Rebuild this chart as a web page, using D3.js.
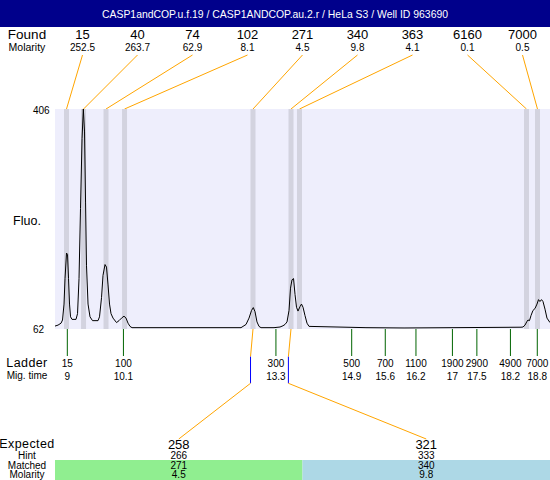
<!DOCTYPE html>
<html><head><meta charset="utf-8">
<script src="https://cdn.jsdelivr.net/npm/d3@7"></script>
<style>body{margin:0;background:#fff} svg{display:block} text{font-family:"Liberation Sans",Arial,sans-serif;fill:#000}</style>
</head><body><svg id="c" width="550" height="480"></svg>
<script>
// ---------- data ----------
const title = "CASP1andCOP.u.f.19 / CASP1ANDCOP.au.2.r / HeLa S3 / Well ID 963690";
const foundSizes = ["15","40","74","102","271","340","363","6160","7000"];
const foundMolarity = ["252.5","263.7","62.9","8.1","4.5","9.8","4.1","0.1","0.5"];
const foundTimes = [8.983, 9.338, 9.807, 10.193, 12.872, 13.664, 13.841, 18.575, 18.804];
const ladderSizes = ["15","100","300","500","700","1100","1900","2900","4900","7000"];
const ladderTimes = [9.00, 10.17, 13.35, 14.93, 15.63, 16.27, 17.03, 17.54, 18.24, 18.80];
const ladderTimeLabels = ["9","10.1","13.3","14.9","15.6","16.2","17","17.5","18.2","18.8"];
const expectedSizes = ["258","321"];
const hintSizes = ["266","333"];
const matchedSizes = ["271","340"];
const matchedMolarity = ["4.5","9.8"];
const expectedTimes = [12.82, 13.61];
const matchedPeakIndex = [4, 5];
const matchedColors = ["#90ee90", "#add8e6"];
const fluoTicks = [62, 406];
const timeDomain = [8.743, 19.065];
const traceTime = [8.743,8.806,8.869,8.900,8.931,8.952,8.983,9.004,9.025,9.046,9.067,9.098,9.181,9.213,9.244,9.275,9.307,9.334,9.359,9.380,9.400,9.432,9.473,9.525,9.640,9.671,9.713,9.744,9.786,9.817,9.849,9.880,9.911,9.953,10.026,10.078,10.130,10.182,10.224,10.266,10.307,10.349,11.350,12.622,12.643,12.726,12.789,12.841,12.878,12.914,12.955,12.997,13.039,13.310,13.435,13.498,13.539,13.581,13.623,13.654,13.685,13.717,13.748,13.779,13.810,13.852,13.883,13.915,13.956,13.998,14.040,15.228,16.021,18.460,18.502,18.544,18.579,18.606,18.637,18.669,18.710,18.752,18.794,18.825,18.856,18.888,18.919,18.961,19.002,19.065];
const traceFluo = [65.5,67,70,75,100,140,180,178,140,100,80,76,76,85,140,250,360,406,370,260,160,100,80,74,74,80,110,145,162,158,130,100,85,78,71,74,78,81,78,70,65,63,63,63,64,68,78,90,94.5,88,72,65,63,63,64,66,68,72,90,125,138,140,115,95,89,96,100,95,82,70,65,63,62.5,63.7,64,67,72,75,74,82,90,93,100,107,104,107,104,92,78,71,66];

// ---------- layout ----------
const W = 550, H = 480;
const plot = {left: 55, right: 550, top: 109, bottom: 329};
const svg = d3.select("#c");
const x = d3.scaleLinear().domain(timeDomain).range([plot.left, plot.right]);
const y = d3.scaleLinear().domain(fluoTicks).range([328.3, plot.top]);
const colW = 55;
const colX = i => colW * (i + 1) + colW / 2;
const orange = "#ffa500";

// header
svg.append("rect").attr("x",0).attr("y",0).attr("width",W).attr("height",27).attr("fill","#00008b");
svg.append("text").attr("x",W/2).attr("y",18).attr("text-anchor","middle")
  .style("fill","#fff").style("font-size","11.5px")
  .attr("textLength",346).attr("lengthAdjust","spacingAndGlyphs").text(title);

// found row
svg.append("text").attr("x",27).attr("y",39).attr("text-anchor","middle").style("font-size","13.5px").text("Found");
svg.append("text").attr("x",27).attr("y",51).attr("text-anchor","middle").style("font-size","10.5px").text("Molarity");
foundSizes.forEach((s,i)=>{
  svg.append("text").attr("x",colX(i)).attr("y",39).attr("text-anchor","middle").style("font-size","13px").text(s);
  svg.append("text").attr("x",colX(i)).attr("y",51).attr("text-anchor","middle").style("font-size","10px").text(foundMolarity[i]);
  svg.append("line").attr("x1",colX(i)).attr("y1",55).attr("x2",x(foundTimes[i])).attr("y2",plot.top)
    .attr("stroke",orange).attr("stroke-width",1);
});

// plot background
svg.append("rect").attr("x",plot.left).attr("y",plot.top).attr("width",plot.right-plot.left).attr("height",plot.bottom-plot.top).attr("fill","#eeeefc");
// found bands
svg.selectAll(".band").data(foundTimes).enter().append("rect")
  .attr("x",d=>x(d)-2.5).attr("y",plot.top).attr("width",5).attr("height",plot.bottom-plot.top).attr("fill","#d3d3df");

// y labels
fluoTicks.forEach(v=>{
  svg.append("text").attr("x",33).attr("y",y(v)+5).style("font-size","10px").text(v);
});
svg.append("text").attr("x",27).attr("y",225).attr("text-anchor","middle").style("font-size","12.5px").text("Fluo.");

// trace
const pts = traceTime.map((t,i)=>[t, traceFluo[i]]);
svg.append("path").datum(pts)
  .attr("d", d3.line().x(d=>x(d[0])).y(d=>y(d[1])))
  .attr("fill","none").attr("stroke","#000").attr("stroke-width",1);

// ladder
svg.append("text").attr("x",27).attr("y",367).attr("text-anchor","middle").style("font-size","12.5px").style("letter-spacing","0.4px").text("Ladder");
svg.append("text").attr("x",27).attr("y",379).attr("text-anchor","middle").style("font-size","10px").text("Mig. time");
ladderTimes.forEach((t,i)=>{
  svg.append("line").attr("x1",x(t)).attr("x2",x(t)).attr("y1",plot.bottom).attr("y2",356)
    .attr("stroke","#006400").attr("stroke-width",1);
  svg.append("text").attr("x",x(t)).attr("y",367).attr("text-anchor","middle").style("font-size","10px").text(ladderSizes[i]);
  svg.append("text").attr("x",x(t)).attr("y",380).attr("text-anchor","middle").style("font-size","10px").text(ladderTimeLabels[i]);
});

// expected section
const ecW = (plot.right - plot.left) / expectedSizes.length;
const ecX = i => plot.left + ecW * i + ecW / 2;
expectedSizes.forEach((s,i)=>{
  const px = x(foundTimes[matchedPeakIndex[i]]);
  const ex = x(expectedTimes[i]);
  svg.append("polyline").attr("points", `${px},${plot.bottom} ${ex},356.7`).attr("fill","none").attr("stroke",orange);
  svg.append("line").attr("x1",ex).attr("x2",ex).attr("y1",356.7).attr("y2",383.3).attr("stroke","#0000ff");
  svg.append("line").attr("x1",ex).attr("y1",383.3).attr("x2",ecX(i)).attr("y2",439).attr("stroke",orange);
  svg.append("rect").attr("x",plot.left+ecW*i).attr("y",460).attr("width",ecW).attr("height",20).attr("fill",matchedColors[i]);
  svg.append("text").attr("x",ecX(i)).attr("y",448.5).attr("text-anchor","middle").style("font-size","13px").text(s);
  svg.append("text").attr("x",ecX(i)).attr("y",458.5).attr("text-anchor","middle").style("font-size","10px").text(hintSizes[i]);
  svg.append("text").attr("x",ecX(i)).attr("y",469).attr("text-anchor","middle").style("font-size","10px").text(matchedSizes[i]);
  svg.append("text").attr("x",ecX(i)).attr("y",478).attr("text-anchor","middle").style("font-size","10px").text(matchedMolarity[i]);
});
svg.append("text").attr("x",27).attr("y",448).attr("text-anchor","middle").style("font-size","12.5px").style("letter-spacing","0.4px").text("Expected");
svg.append("text").attr("x",27).attr("y",458.5).attr("text-anchor","middle").style("font-size","10px").text("Hint");
svg.append("text").attr("x",27).attr("y",469).attr("text-anchor","middle").style("font-size","10px").text("Matched");
svg.append("text").attr("x",27).attr("y",478).attr("text-anchor","middle").style("font-size","10px").text("Molarity");
</script></body></html>
